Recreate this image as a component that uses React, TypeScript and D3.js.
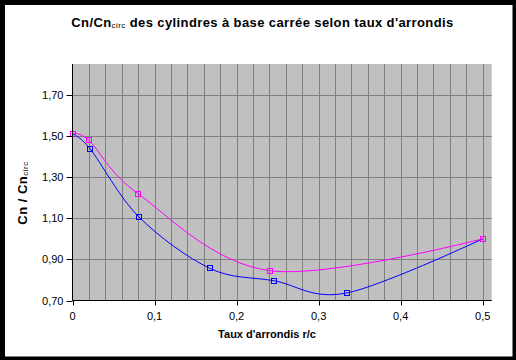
import React from "react";
import * as d3 from "d3";

const magentaX = [0, 0.02, 0.08, 0.241, 0.5];
const magentaY = [1.51, 1.48, 1.22, 0.845, 1.0];
const blueX = [0, 0.0216, 0.081, 0.1678, 0.2458, 0.3347, 0.5];
const blueY = [1.51, 1.438, 1.107, 0.856, 0.796, 0.737, 1.0];
const xTicks = [0, 0.1, 0.2, 0.3, 0.4, 0.5];
const xGrid = d3.range(0, 26).map((i) => i * 0.02);
const yTicks = [0.7, 0.9, 1.1, 1.3, 1.5, 1.7];

const W = 516;
const H = 360;
const plotL = 72.5;
const plotR = 491.7;
const plotT = 64;
const plotB = 300.5;

export default function App() {
  const x = d3.scaleLinear().domain([0, 0.511]).range([plotL, plotL + 0.511 * 820.4]);
  const y = d3.scaleLinear().domain([0.7, 1.852]).range([plotB, plotT]);
  const line = d3
    .line<[number, number]>()
    .x((d) => x(d[0]))
    .y((d) => y(d[1]))
    .curve(d3.curveCatmullRom.alpha(0));
  const mData: [number, number][] = magentaX.map((v, i) => [v, magentaY[i]]);
  const bData: [number, number][] = blueX.map((v, i) => [v, blueY[i]]);
  const fmt = (v: number) => v.toFixed(2).replace(".", ",");
  const fmtX = (v: number) => (v === 0 ? "0" : v.toFixed(1).replace(".", ","));
  const font = "'Liberation Sans', Arial, sans-serif";
  const s = 5;
  return (
    <svg
      width={W}
      height={H}
      style={{ position: "absolute", left: 0, top: 0 }}
      fontFamily={font}
    >
      <rect x={0} y={0} width={W} height={H} fill="#000" />
      <rect x={5} y={5} width={507.5} height={351.5} fill="#fff" />
      <rect x={plotL} y={plotT} width={plotR - plotL} height={plotB - plotT} fill="#C0C0C0" />
      {xGrid.slice(1).map((g) => (
        <line key={"xg" + g} x1={Math.round(x(g)) + 0.5} x2={Math.round(x(g)) + 0.5} y1={plotT} y2={plotB} stroke="#808080" strokeWidth={1} />
      ))}
      {yTicks.slice(1).map((t) => (
        <line key={"yg" + t} x1={plotL} x2={plotR} y1={Math.round(y(t)) + 0.5} y2={Math.round(y(t)) + 0.5} stroke="#808080" strokeWidth={1} />
      ))}
      <path d={line(mData) || ""} fill="none" stroke="#FF00FF" strokeWidth={1} />
      <path d={line(bData) || ""} fill="none" stroke="#0000FF" strokeWidth={1} />
      {bData.map((d, i) => (
        <rect key={"bm" + i} x={Math.round(x(d[0])) - 2.5} y={Math.round(y(d[1])) - 2.5} width={s} height={s} fill="none" stroke="#0000FF" strokeWidth={1} />
      ))}
      {mData.map((d, i) => (
        <rect key={"mm" + i} x={Math.round(x(d[0])) - 2.5} y={Math.round(y(d[1])) - 2.5} width={s} height={s} fill="none" stroke="#FF00FF" strokeWidth={1} />
      ))}
      <line x1={plotL} x2={plotL} y1={plotT} y2={plotB} stroke="#000" strokeWidth={1} />
      <line x1={plotL} x2={plotR} y1={plotB} y2={plotB} stroke="#000" strokeWidth={1} />
      {yTicks.map((t) => (
        <g key={"yt" + t}>
          <line x1={plotL - 6} x2={plotL} y1={Math.round(y(t)) + 0.5} y2={Math.round(y(t)) + 0.5} stroke="#000" />
          <text x={63.5} y={y(t) + 4} fontSize={11} textAnchor="end" fill="#000">
            {fmt(t)}
          </text>
        </g>
      ))}
      {xTicks.map((t) => (
        <g key={"xt" + t}>
          <line x1={Math.round(x(t)) + 0.5} x2={Math.round(x(t)) + 0.5} y1={plotB} y2={plotB + 5} stroke="#000" />
          <text x={x(t)} y={319.5} fontSize={11} textAnchor="middle" fill="#000">
            {fmtX(t)}
          </text>
        </g>
      ))}
      <text x={267} y={338} fontSize={11} fontWeight="bold" textAnchor="middle" fill="#000">
        Taux d'arrondis r/c
      </text>
      <text
        transform="translate(27,193) rotate(-90)"
        fontSize={13}
        fontWeight="bold"
        textAnchor="middle"
        fill="#000"
        letterSpacing={0.5}
      >
        Cn / Cn
        <tspan fontSize={8} fontWeight="normal" dy={1}>circ</tspan>
      </text>
      <text x={262.5} y={27} fontSize={13} fontWeight="bold" textAnchor="middle" fill="#000" letterSpacing={0.4}>
        Cn/Cn
        <tspan fontSize={8} fontWeight="normal" dy={1}>circ</tspan>
        <tspan dy={-1}> des cylindres à base carrée selon taux d'arrondis</tspan>
      </text>
    </svg>
  );
}
